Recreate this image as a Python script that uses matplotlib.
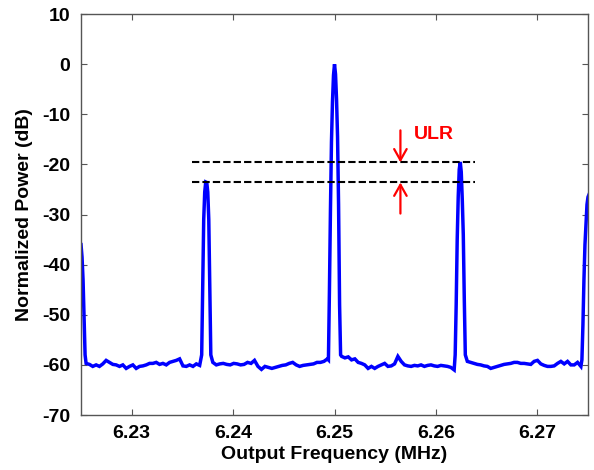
"""Spectrum plot with the ULR (upper/lower sideband ratio) marker."""

import matplotlib.pyplot as plt
import numpy as np

plt.rcParams["font.family"] = ["Liberation Sans", "DejaVu Sans"]
plt.rcParams["font.weight"] = "bold"
plt.rcParams["axes.unicode_minus"] = False

# left edge of the band (peak just outside the window)
edge_left_freq = [6.2250, 6.2251, 6.2252, 6.2253, 6.2254]
edge_left_db = [-36, -38.5, -43, -50.5, -58]

# noise floor between the edge and the lower sideband
floor1_span = (6.2255, 6.2367)
floor1_db = [-59.7, -59.9, -60.3, -60.0, -60.3, -59.8, -59.1, -59.5, -59.9, -60.0,
             -60.3, -60.0, -60.7, -60.3, -60.0, -60.7, -60.3, -60.2, -60.0, -59.7,
             -59.7, -59.5, -59.9, -59.7, -60.0, -59.5, -59.3, -59.1, -58.8, -60.2,
             -60.3, -60.0, -60.3, -59.8, -60.1]

# lower sideband
lower_freq = [6.2369, 6.2370, 6.2371, 6.2372, 6.2373, 6.2374, 6.2375, 6.2376,
              6.2377, 6.2378]
lower_db = [-58, -45, -31, -25.5, -23.5, -23.6, -25.5, -31, -45, -58]

floor2_span = (6.2380, 6.2493)
floor2_db = [-59.5, -60.0, -59.8, -59.7, -59.9, -60.0, -59.7, -59.8, -60.0, -59.9,
             -59.5, -59.7, -59.1, -60.3, -60.9, -60.3, -60.5, -60.7, -60.5, -60.3,
             -60.1, -60.0, -59.7, -59.5, -60.0, -60.3, -60.1, -60.0, -59.9, -59.8,
             -59.5, -59.5, -59.3, -58.8]

# carrier
carrier_freq = [6.2494, 6.2495, 6.2496, 6.2497, 6.2498, 6.2499, 6.2500, 6.2501,
                6.2502, 6.2503, 6.2504, 6.2505, 6.2506]
carrier_db = [-59, -45, -29, -15.5, -7.5, -2.2, 0, -2, -7, -14.5, -28, -48, -58]

floor3_span = (6.2507, 6.2618)
floor3_db = [-58.3, -58.6, -58.4, -59.0, -58.8, -59.5, -59.7, -60.0, -60.7, -60.3,
             -60.7, -60.3, -60.0, -59.7, -60.3, -60.2, -59.8, -58.3, -59.3, -60.0,
             -60.2, -60.3, -60.1, -60.2, -60.0, -60.3, -60.1, -60.0, -60.2, -60.3,
             -60.1, -60.2, -60.3, -60.5, -61.0]

# upper sideband
upper_freq = [6.2619, 6.2620, 6.2621, 6.2622, 6.2623, 6.2624, 6.2625, 6.2626,
              6.2627, 6.2628, 6.2629]
upper_db = [-58, -48, -35, -26.5, -21, -19.5, -21.5, -27, -34, -47, -58]

floor4_span = (6.2631, 6.2743)
floor4_db = [-59.3, -59.5, -59.7, -59.9, -60.0, -60.2, -60.3, -60.7, -60.5, -60.3,
             -60.1, -59.9, -59.8, -59.7, -59.5, -59.5, -59.7, -59.7, -59.8, -59.9,
             -59.3, -59.1, -59.8, -60.1, -60.3, -60.3, -60.2, -59.7, -59.3, -59.8,
             -59.3, -60.0, -60.0, -59.5, -60.3]

# right edge of the band
edge_right_freq = [6.2744, 6.2745, 6.2746, 6.2747, 6.2748, 6.2749, 6.2750, 6.2751]
edge_right_db = [-59, -52, -43, -36, -32, -28, -26.5, -26]

ulr_levels = [-19.6, -23.6]
ulr_span = (6.2359, 6.2639)
ulr_arrow_freq = 6.2565


def build_trace():
    freq = []
    power = []
    floors = [(floor1_span, floor1_db), (floor2_span, floor2_db),
              (floor3_span, floor3_db), (floor4_span, floor4_db)]
    peaks = [(edge_left_freq, edge_left_db), (lower_freq, lower_db),
             (carrier_freq, carrier_db), (upper_freq, upper_db)]
    for (pf, pd), (span, fd) in zip(peaks, floors):
        freq += pf
        power += pd
        freq += list(np.linspace(span[0], span[1], len(fd)))
        power += fd
    freq += edge_right_freq
    power += edge_right_db
    return np.array(freq), np.array(power)


def plot_spectrum():
    fig = plt.figure(figsize=(5.94, 4.70), dpi=100)
    ax = fig.add_axes([0.1364, 0.117, 0.8535, 0.853])

    freq, power = build_trace()
    ax.plot(freq, power, color="#0000ff", lw=2.5, solid_joinstyle="miter")

    for level in ulr_levels:
        ax.plot(ulr_span, [level, level], color="black", lw=1.5,
                dashes=(3.5, 1.5))

    arrow = dict(arrowstyle="->,head_length=0.8,head_width=0.45",
                 color="red", lw=1.6, shrinkA=0, shrinkB=0)
    ax.annotate("", xy=(ulr_arrow_freq, ulr_levels[0]),
                xytext=(ulr_arrow_freq, -13.2), arrowprops=arrow)
    ax.annotate("", xy=(ulr_arrow_freq, ulr_levels[1]),
                xytext=(ulr_arrow_freq, -29.8), arrowprops=arrow)
    ax.text(6.2578, -14.0, "ULR", color="red", fontsize=14,
            fontweight="bold", ha="left", va="center")

    ax.set_xlim(6.225, 6.275)
    ax.set_ylim(-70, 10)
    ax.set_xticks([6.23, 6.24, 6.25, 6.26, 6.27])
    ax.set_yticks(range(-70, 11, 10))
    ax.tick_params(direction="in", length=4, width=0.8, colors="#555555",
                   labelcolor="black", labelsize=14, top=True, right=True)
    ax.tick_params(axis="x", pad=7)
    ax.tick_params(axis="y", pad=8)
    for spine in ax.spines.values():
        spine.set_color("#555555")
        spine.set_linewidth(1.0)

    ax.set_xlabel("Output Frequency (MHz)", fontsize=14, fontweight="bold",
                  labelpad=3)
    ax.set_ylabel("Normalized Power (dB)", fontsize=14, fontweight="bold",
                  labelpad=6)

    fig.savefig("out.png", dpi=100)


def main() -> None:
    plot_spectrum()


if __name__ == "__main__":
    main()
